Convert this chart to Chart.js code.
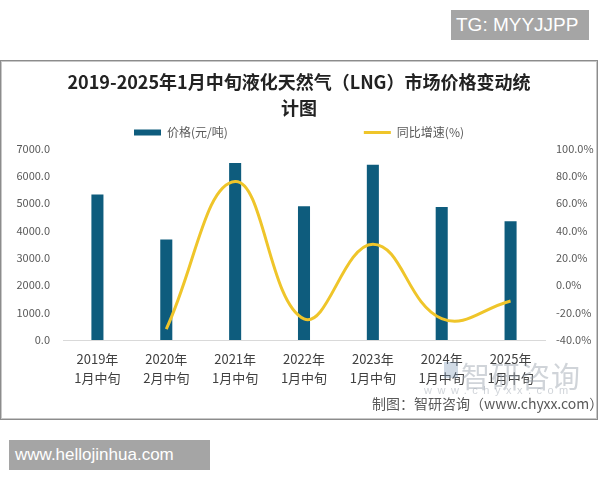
<!DOCTYPE html>
<html>
<head>
<meta charset="utf-8">
<script src="https://cdn.jsdelivr.net/npm/chart.js@4/dist/chart.umd.min.js"></script>
<style>
  html, body { margin: 0; padding: 0; background: #ffffff; }
  body { width: 600px; height: 480px; position: relative; overflow: hidden; font-family: "Noto Sans CJK SC", "Noto Sans", sans-serif; }
  #wrap { position: absolute; left: 0; top: 60px; width: 598px; height: 360px; }
  #frame { position: absolute; left: 0; top: 60px; width: 596px; height: 358px; border: 1px solid #8c8c8c; box-shadow: 0 0 0 1px #c8c8c8 inset; pointer-events: none; }
  .tag { position: absolute; background: #a5a5a5; color: #ffffff; font-family: "Liberation Sans", Arial, sans-serif; }
  #tg { left: 451px; top: 10px; width: 138px; height: 30px; line-height: 30px; font-size: 19px; text-align: left; padding-left: 5px; box-sizing: border-box; }
  #hj { left: 9px; top: 440px; width: 201px; height: 30px; line-height: 30px; font-size: 17px; padding-left: 6px; box-sizing: border-box; }
  #src { position: absolute; left: 372px; top: 393px; font-size: 14px; color: #595959; white-space: nowrap; }
  #wm1 { position: absolute; left: 461px; top: 354px; font-size: 29px; color: rgba(150,160,170,0.45); white-space: nowrap; letter-spacing: 1px; }
  #wm2 { position: absolute; left: 424px; top: 384px; font-size: 11px; color: rgba(150,160,170,0.45); white-space: nowrap; letter-spacing: 5.5px; font-family: "Liberation Sans", Arial, sans-serif; }
  #wmlogo { position: absolute; left: 444px; top: 362px; width: 14px; height: 16px; background: rgba(120,150,180,0.35); }
</style>
</head>
<body>
<div id="tg" class="tag">TG: MYYJJPP</div>
<div id="wrap"><canvas id="c" width="598" height="360"></canvas></div>
<div id="frame"></div>
<div id="wmlogo"></div>
<div id="wm1">智研咨询</div>
<div id="wm2">www.chyxx.com</div>
<div id="src">制图：智研咨询（www.chyxx.com）</div>
<div id="hj" class="tag">www.hellojinhua.com</div>
<script>
// ---- data ----
const years = ['2019年', '2020年', '2021年', '2022年', '2023年', '2024年', '2025年'];
const periods = ['1月中旬', '2月中旬', '1月中旬', '1月中旬', '1月中旬', '1月中旬', '1月中旬'];
const priceValues = [5320, 3670, 6470, 4890, 6400, 4855, 4340];
const growthValues = [null, -32.0, 75.8, -24.6, 30.0, -24.4, -11.5];
const titleLines = ['2019-2025年1月中旬液化天然气（LNG）市场价格变动统', '计图'];
const priceLabel = '价格(元/吨)';
const growthLabel = '同比增速(%)';
const leftTicks = { min: 0, max: 7000, step: 1000 };
const rightTicks = { min: -40, max: 100, step: 20 };

const labels = years.map((y, i) => [y, periods[i]]);
const tickFont = { family: '"Noto Sans CJK SC", "Noto Sans", sans-serif', size: 11 };

new Chart(document.getElementById('c'), {
  data: {
    labels: labels,
    datasets: [
      {
        type: 'bar',
        label: priceLabel,
        data: priceValues,
        yAxisID: 'y',
        backgroundColor: '#0e5c7d',
        borderWidth: 0,
        categoryPercentage: 1.0,
        barPercentage: 0.175,
        pointStyle: 'rect',
        order: 2
      },
      {
        type: 'line',
        label: growthLabel,
        data: growthValues,
        yAxisID: 'y1',
        borderColor: '#efc52a',
        backgroundColor: '#efc52a',
        borderWidth: 3,
        pointRadius: 0,
        pointStyle: 'line',
        tension: 0.42,
        spanGaps: false,
        order: 1
      }
    ]
  },
  options: {
    responsive: false,
    animation: false,
    layout: { padding: { left: 0, right: 0, top: 0, bottom: 33 } },
    plugins: {
      title: {
        display: true,
        text: titleLines,
        color: '#222222',
        font: { family: '"Noto Sans CJK SC", sans-serif', size: 18, weight: 'bold', lineHeight: 1.4 },
        padding: { top: 10, bottom: 2 }
      },
      legend: {
        display: true,
        position: 'top',
        labels: {
          usePointStyle: true,
          pointStyleWidth: 27,
          boxHeight: 6,
          padding: 4,
          color: '#595959',
          font: { family: '"Noto Sans CJK SC", sans-serif', size: 12 },
          generateLabels: function (chart) {
            const items = Chart.defaults.plugins.legend.labels.generateLabels(chart);
            items.sort(function (a, b) { return a.datasetIndex - b.datasetIndex; });
            if (items.length) items[0].text = items[0].text + '\u2003'.repeat(11);
            return items;
          },
          sort: function (a, b) { return a.datasetIndex - b.datasetIndex; }
        }
      },
      tooltip: { enabled: false }
    },
    scales: {
      x: {
        position: 'bottom',
        grid: { display: false, drawTicks: false },
        border: { display: true, color: '#d9d9d9', width: 1 },
        ticks: {
          color: '#404040',
          padding: 10,
          maxRotation: 0,
          autoSkip: false,
          font: { family: '"Noto Sans CJK SC", sans-serif', size: 13, lineHeight: 1.45 }
        },
        afterFit: function (s) { s.height = 47; }
      },
      y: {
        position: 'left',
        min: leftTicks.min,
        max: leftTicks.max,
        grid: { display: false, drawTicks: false },
        border: { display: false },
        ticks: {
          stepSize: leftTicks.step,
          padding: 13,
          color: '#595959',
          font: tickFont,
          callback: function (v) { return Number(v).toFixed(1); }
        },
        afterFit: function (s) { s.width = 63; }
      },
      y1: {
        position: 'right',
        min: rightTicks.min,
        max: rightTicks.max,
        grid: { display: false, drawTicks: false },
        border: { display: false },
        ticks: {
          stepSize: rightTicks.step,
          padding: 11,
          color: '#595959',
          font: tickFont,
          callback: function (v) { return Number(v).toFixed(1) + '%'; }
        },
        afterFit: function (s) { s.width = 53; }
      }
    }
  }
});
</script>
</body>
</html>
